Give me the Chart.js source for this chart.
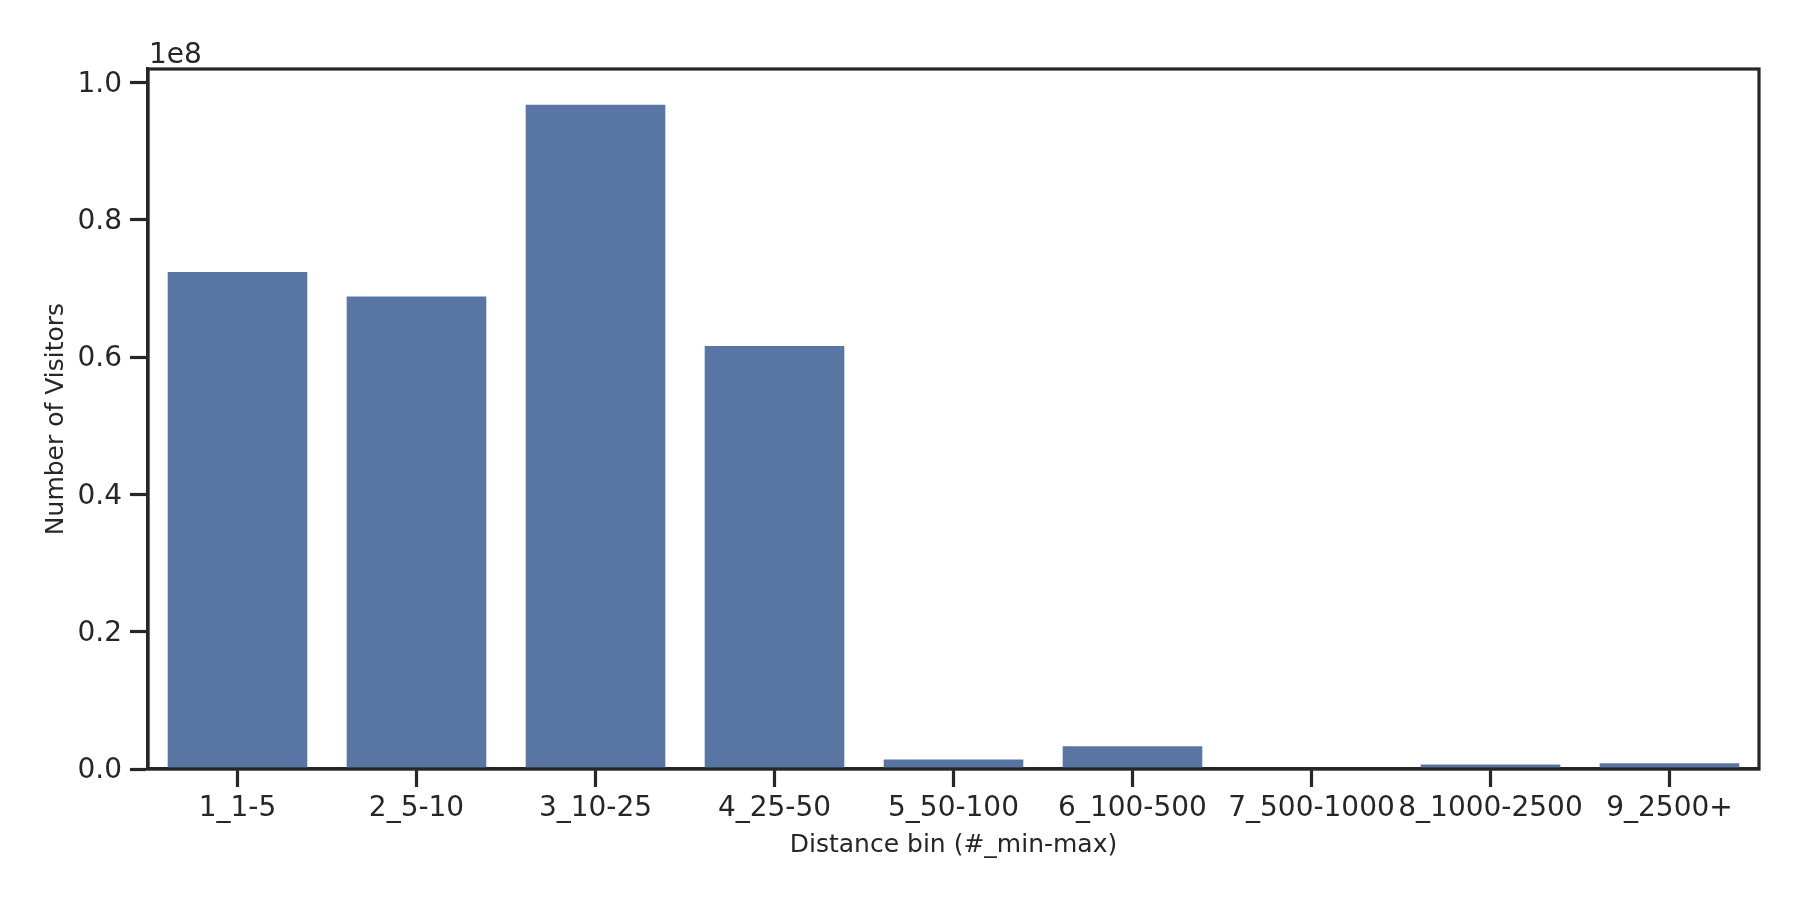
<!DOCTYPE html>
<html>
<head>
<meta charset="utf-8">
<script src="https://cdn.jsdelivr.net/npm/chart.js@4.4.1/dist/chart.umd.min.js"></script>
<style>
  html, body { margin: 0; padding: 0; background: #ffffff; }
  #wrap { width: 1800px; height: 900px; position: relative; }
</style>
</head>
<body>
<div id="wrap"><canvas id="barChart" width="1800" height="900"></canvas></div>
<script>
// Chart data
const categories = ['1_1-5', '2_5-10', '3_10-25', '4_25-50', '5_50-100', '6_100-500', '7_500-1000', '8_1000-2500', '9_2500+'];
const visitors = [72400000, 68800000, 96750000, 61600000, 1400000, 3300000, 30000, 650000, 850000];
const yTicks = [0, 20000000, 40000000, 60000000, 80000000, 100000000];

const TEXT = '#262626';
const FONT = 'DejaVu Sans';

// Draws the box around the plot and the offset text
const framePlugin = {
    id: 'frame',
    afterDraw(chart) {
        const { ctx, chartArea } = chart;
        ctx.save();
        ctx.strokeStyle = TEXT;
        ctx.lineWidth = 3.2;
        ctx.strokeRect(chartArea.left, chartArea.top, chartArea.right - chartArea.left, chartArea.bottom - chartArea.top);
        ctx.fillStyle = TEXT;
        ctx.font = '28px "' + FONT + '"';
        ctx.textAlign = 'left';
        ctx.textBaseline = 'alphabetic';
        ctx.fillText('1e8', chartArea.left + 1, chartArea.top - 6);
        ctx.restore();
    }
};

new Chart(document.getElementById('barChart'), {
    type: 'bar',
    data: {
        labels: categories,
        datasets: [{
            data: visitors,
            backgroundColor: '#5975a4',
            borderWidth: 0,
            barPercentage: 0.78,
            categoryPercentage: 1.0
        }]
    },
    options: {
        responsive: false,
        animation: false,
        layout: { padding: { left: 0, top: 69, right: 41, bottom: 0 } },
        plugins: {
            legend: { display: false },
            tooltip: { enabled: false }
        },
        scales: {
            x: {
                offset: true,
                afterFit(scale) { scale.height = 131; },
                grid: {
                    offset: false,
                    drawOnChartArea: false,
                    drawTicks: true,
                    tickLength: 18,
                    tickWidth: 3.2,
                    tickColor: TEXT
                },
                border: { display: true, color: TEXT, width: 3.2 },
                ticks: {
                    autoSkip: false,
                    maxRotation: 0,
                    minRotation: 0,
                    padding: 5,
                    color: TEXT,
                    font: { family: FONT, size: 28 }
                },
                title: {
                    display: true,
                    text: 'Distance bin (#_min-max)',
                    color: TEXT,
                    font: { family: FONT, size: 25 },
                    padding: { top: 0, bottom: 40 }
                }
            },
            y: {
                min: 0,
                max: 101950000,
                afterFit(scale) { scale.width = 148; },
                afterBuildTicks(scale) {
                    scale.ticks = yTicks.map(v => ({ value: v }));
                },
                grid: {
                    drawOnChartArea: false,
                    drawTicks: true,
                    tickLength: 18,
                    tickWidth: 3.2,
                    tickColor: TEXT
                },
                border: { display: true, color: TEXT, width: 3.2 },
                ticks: {
                    padding: 8,
                    labelOffset: 2,
                    color: TEXT,
                    font: { family: FONT, size: 28 },
                    callback: value => (value / 1e8).toFixed(1)
                },
                title: {
                    display: true,
                    text: 'Number of Visitors',
                    color: TEXT,
                    font: { family: FONT, size: 25 },
                    padding: { top: 41, bottom: 0 }
                }
            }
        }
    },
    plugins: [framePlugin]
});
</script>
</body>
</html>
